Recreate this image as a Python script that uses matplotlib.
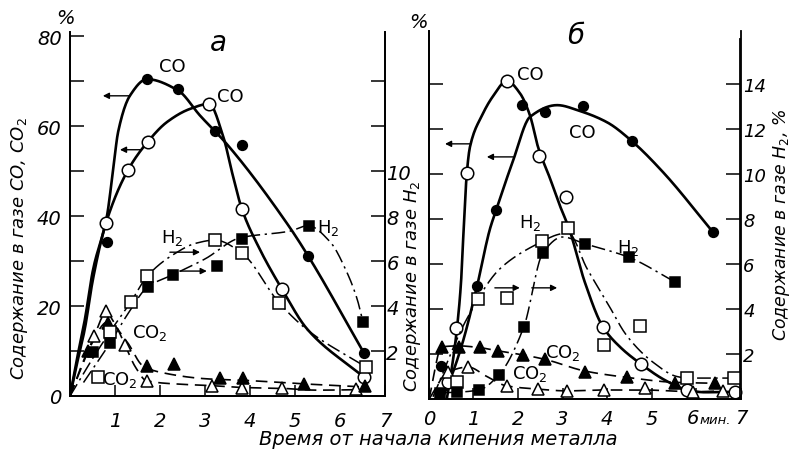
import numpy as np
import matplotlib
matplotlib.use("Agg")
import matplotlib.pyplot as plt

# ---------------- data: panel "а" ----------------
# CO, filled circles (left axis, %)
a_co1_t = [0.82, 1.71, 2.4, 3.22, 3.82, 5.29, 6.53]
a_co1_v = [34.3, 70.5, 68.4, 59.0, 55.9, 31.2, 9.6]
a_co1_ct = [0, 0.15, 0.33, 0.51, 0.82, 0.96, 1.07, 1.33, 1.71, 2.4, 2.89, 3.49, 4.85, 5.29, 6.53]
a_co1_cv = [0, 8, 17, 28, 40, 50.5, 58.8, 66.8, 70.5, 68, 62.4, 56, 38, 31.2, 9.6]
# CO, open circles
a_co2_t = [0.8, 1.29, 1.73, 3.09, 3.82, 4.7, 6.53]
a_co2_v = [38.5, 50.3, 56.6, 65.0, 41.6, 23.8, 4.2]
a_co2_ct = [0, 0.15, 0.33, 0.51, 0.8, 1.29, 1.73, 2.16, 2.67, 3.09, 3.4, 3.62, 3.82, 4.2, 4.71, 5.27, 6.53]
a_co2_cv = [0, 7, 15, 26, 38.5, 50.3, 56.6, 61, 63.9, 65, 57.9, 49, 41.6, 33, 23.8, 14.9, 4.2]
# H2, open squares (right axis, %)
a_h2o_t = [0.63, 0.89, 1.35, 1.72, 3.22, 3.82, 4.65, 6.57]
a_h2o_v = [0.84, 2.86, 4.18, 5.34, 6.94, 6.36, 4.14, 1.3]
a_h2o_ct = [0, 0.45, 0.89, 1.35, 1.72, 2.3, 2.8, 3.22, 3.82, 4.65, 5.3, 6.57]
a_h2o_cv = [0, 1.5, 2.86, 4.18, 5.34, 6.3, 6.8, 6.94, 6.36, 4.14, 2.9, 1.3]
# H2, filled squares
a_h2f_t = [0.52, 0.89, 1.73, 2.29, 3.26, 3.82, 5.31, 6.51]
a_h2f_v = [1.96, 2.36, 4.86, 5.4, 5.8, 7.0, 7.58, 3.3]
a_h2f_ct = [0.3, 0.89, 1.3, 1.73, 2.29, 3.0, 3.78, 4.89, 5.29, 5.78, 6.15, 6.38, 6.51]
a_h2f_cv = [0.6, 2.36, 3.7, 4.86, 5.4, 6.1, 7.04, 7.34, 7.58, 6.86, 5.52, 4.32, 3.3]
# CO2, open triangles (left axis)
a_c2o_t = [0.54, 0.8, 1.22, 1.7, 3.15, 3.82, 4.7, 6.35]
a_c2o_v = [13.4, 19, 11.4, 3.4, 2.3, 1.7, 1.7, 1.6]
a_c2o_ct = [0, 0.3, 0.54, 0.8, 1.0, 1.22, 1.45, 1.7, 2.5, 3.15, 3.82, 4.7, 5.5, 6.35]
a_c2o_cv = [0, 7.5, 13.4, 18.5, 16, 11.4, 6.5, 3.4, 2.6, 2.3, 1.9, 1.7, 1.3, 1.4]
# CO2, filled triangles
a_c2f_t = [0.4, 0.85, 1.7, 2.31, 3.33, 3.84, 5.19, 6.56]
a_c2f_v = [10, 16.3, 6.7, 7.1, 4.0, 4.0, 2.7, 2.2]
a_c2f_ct = [0, 0.4, 0.84, 1.27, 1.62, 2.0, 3.07, 3.84, 5.19, 6.56]
a_c2f_cv = [0, 10, 16.5, 12, 6.7, 5.3, 3.8, 3.5, 2.7, 2.0]

# ---------------- data: panel "б" ----------------
b_coo_t = [0.43, 0.61, 0.85, 1.75, 2.47, 3.08, 3.91, 4.76, 5.8, 6.88]
b_coo_v = [3.8, 15.8, 50.2, 70.7, 54, 45, 16, 7.8, 2.0, 1.6]
b_coo_ct = [0.4, 0.5, 0.63, 0.72, 0.78, 0.85, 0.92, 1.19, 1.44, 1.75, 2.04, 2.27, 2.45, 2.72, 2.94, 3.15, 3.5, 3.91, 4.3, 4.76, 5.3, 5.8, 6.2, 6.88]
b_coo_cv = [0, 6, 15.8, 26, 38, 50.2, 56, 63, 67.3, 70.7, 68, 63, 56, 49, 43, 37.8, 26, 16, 11.5, 7.8, 4.2, 2.0, 1.5, 1.6]
b_cof_t = [0.27, 1.08, 1.51, 2.09, 2.61, 3.46, 4.56, 6.38]
b_cof_v = [7.3, 25.1, 42, 65.3, 63.8, 65.1, 57.3, 37.1]
b_cof_ct = [0.3, 0.54, 0.76, 1.08, 1.37, 1.51, 1.89, 2.27, 2.88, 3.39, 4.0, 4.56, 5.26, 6.38]
b_cof_cv = [0, 6, 12.7, 25.1, 37.8, 42, 53, 62.7, 65.3, 64, 61.5, 57.3, 50.4, 37.1]
b_h2o_t = [0.63, 1.1, 1.75, 2.54, 3.12, 3.93, 4.74, 5.8, 6.85]
b_h2o_v = [0.76, 4.44, 4.48, 7.0, 7.6, 2.4, 3.24, 0.93, 0.93]
b_h2o_ct = [0.09, 0.85, 1.6, 2.54, 2.88, 3.12, 3.55, 4.0, 4.45, 5.03, 5.57, 5.8, 6.85]
b_h2o_cv = [0.1, 3.56, 5.8, 7.0, 7.3, 7.4, 5.8, 4.3, 2.8, 1.64, 1.0, 0.93, 0.93]
b_h2f_t = [0.25, 0.63, 1.12, 1.57, 2.13, 2.56, 3.5, 4.49, 5.53]
b_h2f_v = [0.27, 0.3, 0.4, 1.07, 3.2, 6.5, 6.9, 6.3, 5.2]
b_h2f_ct = [0.25, 0.63, 1.12, 1.57, 2.13, 2.56, 3.0, 3.5, 4.49, 5.53]
b_h2f_cv = [0.27, 0.3, 0.4, 1.07, 3.2, 6.5, 7.2, 6.9, 6.3, 5.2]
b_c2f_t = [0.29, 0.67, 1.15, 1.55, 2.11, 2.61, 3.51, 4.45, 5.53, 6.43]
b_c2f_v = [11.6, 11.6, 11.6, 10.7, 9.8, 8.9, 6.0, 4.9, 3.6, 3.6]
b_c2f_ct = [0, 0.29, 0.67, 1.15, 1.55, 2.11, 2.61, 3.51, 4.45, 5.53, 6.43]
b_c2f_cv = [0, 11.6, 11.8, 11.4, 10.7, 9.8, 8.8, 6.2, 4.8, 3.7, 3.5]
b_c2o_t = [0.43, 0.88, 1.75, 2.45, 3.1, 3.93, 4.85, 5.93, 6.6]
b_c2o_v = [6.0, 7.1, 2.9, 2.2, 1.8, 2.0, 2.4, 1.6, 1.8]
b_c2o_ct = [0, 0.43, 0.88, 1.3, 1.75, 2.45, 3.1, 3.93, 4.85, 5.93, 6.6]
b_c2o_cv = [0, 6.0, 7.1, 5.0, 2.9, 2.2, 1.8, 2.0, 2.0, 1.6, 1.8]

left_ticks_a = [0, 20, 40, 60, 80]
right_ticks_labels = [2, 4, 6, 8, 10]
right_ticks_b = [2, 4, 6, 8, 10, 12, 14]
x_labels_b = ['0', '1', '2', '3', '4', '5', '', '']

# ---------------- helpers ----------------
def pchip(x, y, n=300):
    x = np.asarray(x, float); y = np.asarray(y, float)
    h = np.diff(x); d = np.diff(y) / h
    m = np.zeros_like(y)
    m[0], m[-1] = d[0], d[-1]
    for k in range(1, len(x) - 1):
        if d[k - 1] * d[k] > 0:
            w1 = 2 * h[k] + h[k - 1]; w2 = h[k] + 2 * h[k - 1]
            m[k] = (w1 + w2) / (w1 / d[k - 1] + w2 / d[k])
    xs = np.linspace(x[0], x[-1], n)
    idx = np.clip(np.searchsorted(x, xs) - 1, 0, len(x) - 2)
    t = (xs - x[idx]) / h[idx]
    h00 = 2*t**3 - 3*t**2 + 1; h10 = t**3 - 2*t**2 + t
    h01 = -2*t**3 + 3*t**2; h11 = t**3 - t**2
    ys = h00*y[idx] + h10*h[idx]*m[idx] + h01*y[idx+1] + h11*h[idx]*m[idx+1]
    return xs, ys

SOLID = dict(color='k', lw=1.9, ls='-')
DASHDOT = dict(color='k', lw=1.1, ls=(0, (9, 3, 1.5, 3)))
DASH = dict(color='k', lw=1.2, ls=(0, (7, 4)))

def curve(ax, ct, cv, style):
    xs, ys = pchip(ct, cv)
    ax.plot(xs, ys, zorder=2, **style)

def marks(ax, t, v, marker, filled, ms):
    ax.plot(t, v, ls='none', marker=marker, ms=ms, mec='k', mew=1.1,
            mfc='k' if filled else 'white', zorder=4, clip_on=False)

def arrow(ax, x0, x1, y):
    ax.annotate('', xy=(x1, y), xytext=(x0, y),
                arrowprops=dict(arrowstyle='-|>', color='k', lw=1.0,
                                mutation_scale=9, shrinkA=0, shrinkB=0), zorder=3)

LBL = dict(fontsize=13)

fig = plt.figure(figsize=(7.97, 4.60), dpi=100)
W, H = 797.0, 460.0

axA = fig.add_axes([70/W, 1-397/H, 315/W, (397-33)/H])
axA.set_xlim(0, 7); axA.set_ylim(0, 81)
axA2 = axA.twinx(); axA2.set_ylim(0, 81/5)

axB = fig.add_axes([429/W, 1-400/H, 311.5/W, 368/H])
axB.set_xlim(0, 7); axB.set_ylim(0, 368/4.5)
axB2 = axB.twinx(); axB2.set_ylim(0, 368/4.5/5)

for ax in (axA, axA2, axB, axB2):
    ax.spines['top'].set_visible(False)
    for s in ax.spines.values():
        s.set_linewidth(1.3)
    ax.patch.set_visible(False)

# ---- panel a axes ----
axA.set_yticks(np.arange(10, 81, 10))
axA.set_yticklabels(['' if v % 20 else str(v) for v in range(10, 81, 10)])
axA.set_yticks([0], minor=True)
axA.set_yticklabels(['0'], minor=True)
axA.tick_params(axis='y', which='major', direction='in', length=10, width=1.1, pad=6, labelsize=14)
axA.tick_params(axis='y', which='minor', length=0, pad=6, labelsize=14)
axA.set_xticks(np.arange(1, 8))
axA.set_xticklabels([str(i) for i in range(1, 8)])
axA.tick_params(axis='x', direction='in', length=8, width=1.1, pad=11, labelsize=14)
axA2.set_yticks(np.arange(2, 15, 2))
axA2.set_yticklabels([str(v) if v in right_ticks_labels else '' for v in range(2, 15, 2)])
axA2.tick_params(axis='y', direction='in', length=10, width=1.1, pad=1, labelsize=14)

# ---- panel b axes ----
axB.set_yticks(np.arange(10, 71, 10)); axB.set_yticklabels([])
axB.tick_params(axis='y', direction='in', length=10, width=1.1)
axB.set_xticks(np.arange(0, 8))
axB.set_xticklabels(x_labels_b)
axB.tick_params(axis='x', direction='in', length=8, width=1.1, pad=7, labelsize=14)
axB2.set_yticks(right_ticks_b)
axB2.set_yticklabels([str(v) for v in right_ticks_b])
axB2.tick_params(axis='y', direction='in', length=10, width=1.1, pad=2, labelsize=13)
axB2.spines['right'].set_bounds(0, (400-40)/22.5)

for ax in (axA, axA2, axB, axB2):
    for lab in ax.get_xticklabels() + ax.get_yticklabels() + ax.get_yticklabels(minor=True):
        lab.set_fontstyle('italic')

# ---- panel a data ----
curve(axA, a_co1_ct, a_co1_cv, SOLID); marks(axA, a_co1_t, a_co1_v, 'o', True, 7)
curve(axA, a_co2_ct, a_co2_cv, SOLID); marks(axA, a_co2_t, a_co2_v, 'o', False, 9)
curve(axA2, a_h2o_ct, a_h2o_cv, DASHDOT); marks(axA2, a_h2o_t, a_h2o_v, 's', False, 8)
curve(axA2, a_h2f_ct, a_h2f_cv, DASHDOT); marks(axA2, a_h2f_t, a_h2f_v, 's', True, 6.5)
curve(axA, a_c2o_ct, a_c2o_cv, DASH); marks(axA, a_c2o_t, a_c2o_v, '^', False, 9)
curve(axA, a_c2f_ct, a_c2f_cv, DASH); marks(axA, a_c2f_t, a_c2f_v, '^', True, 8)

arrow(axA, 1.33, 0.73, 66.8)
arrow(axA, 1.56, 1.11, 54.8)
arrow(axA, 2.22, 2.89, 32.0)
arrow(axA, 2.44, 3.04, 27.8)

axA.text(2.27, 73.5, 'CO', ha='center', va='center', **LBL)
axA.text(3.56, 66.8, 'CO', ha='center', va='center', **LBL)
axA.text(2.27, 35.4, 'H$_2$', ha='center', va='center', **LBL)
axA.text(5.73, 37.6, 'H$_2$', ha='center', va='center', **LBL)
axA.text(1.78, 14.3, 'CO$_2$', ha='center', va='center', **LBL)
axA.text(1.11, 3.8, 'CO$_2$', ha='center', va='center', **LBL)

# ---- panel b data ----
curve(axB, b_coo_ct, b_coo_cv, SOLID); marks(axB, b_coo_t, b_coo_v, 'o', False, 9)
curve(axB, b_cof_ct, b_cof_cv, SOLID); marks(axB, b_cof_t, b_cof_v, 'o', True, 7)
curve(axB2, b_h2o_ct, b_h2o_cv, DASHDOT); marks(axB2, b_h2o_t, b_h2o_v, 's', False, 8)
curve(axB2, b_h2f_ct, b_h2f_cv, DASHDOT); marks(axB2, b_h2f_t, b_h2f_v, 's', True, 6.5)
curve(axB, b_c2f_ct, b_c2f_cv, DASH); marks(axB, b_c2f_t, b_c2f_v, '^', True, 8)
curve(axB, b_c2o_ct, b_c2o_cv, DASH); marks(axB, b_c2o_t, b_c2o_v, '^', False, 9)

arrow(axB, 0.92, 0.36, 56.7)
arrow(axB, 1.89, 1.30, 53.8)
arrow(axB, 1.48, 2.04, 24.7)
arrow(axB, 2.31, 2.88, 24.7)

axB.text(2.27, 72.2, 'CO', ha='center', va='center', **LBL)
axB.text(3.44, 59.3, 'CO', ha='center', va='center', **LBL)
axB.text(2.27, 39.3, 'H$_2$', ha='center', va='center', **LBL)
axB.text(4.47, 33.8, 'H$_2$', ha='center', va='center', **LBL)
axB.text(3.01, 10.4, 'CO$_2$', ha='center', va='center', **LBL)
axB.text(2.27, 5.8, 'CO$_2$', ha='center', va='center', **LBL)

# ---- figure texts ----
def ft(x, y, s, **kw):
    fig.text(x/W, 1-y/H, s, **kw)

ft(65, 18, '%', ha='center', va='center', fontsize=14, fontstyle='italic')
ft(418, 22, '%', ha='center', va='center', fontsize=14, fontstyle='italic')
ft(218, 43, 'а', ha='center', va='center', fontsize=20, fontstyle='italic')
ft(576, 36, 'б', ha='center', va='center', fontsize=20, fontstyle='italic')
ft(693, 419, '6', ha='center', va='center', fontsize=14, fontstyle='italic')
ft(700, 421, 'мин.', ha='left', va='center', fontsize=9.5, fontstyle='italic')
ft(735, 419, '7', ha='left', va='center', fontsize=14, fontstyle='italic')
ft(20, 248, 'Содержание в газе CO, CO$_2$', ha='center', va='center', rotation=90,
   fontsize=13, fontstyle='italic')
ft(412, 286, 'Содержание в газе H$_2$', ha='center', va='center', rotation=90,
   fontsize=13, fontstyle='italic')
ft(782, 225, 'Содержание в газе H$_2$, %', ha='center', va='center', rotation=90,
   fontsize=12.5, fontstyle='italic')
ft(438, 440, 'Время от начала кипения металла', ha='center', va='center',
   fontsize=14, fontstyle='italic')

fig.savefig('out.png', dpi=100)
